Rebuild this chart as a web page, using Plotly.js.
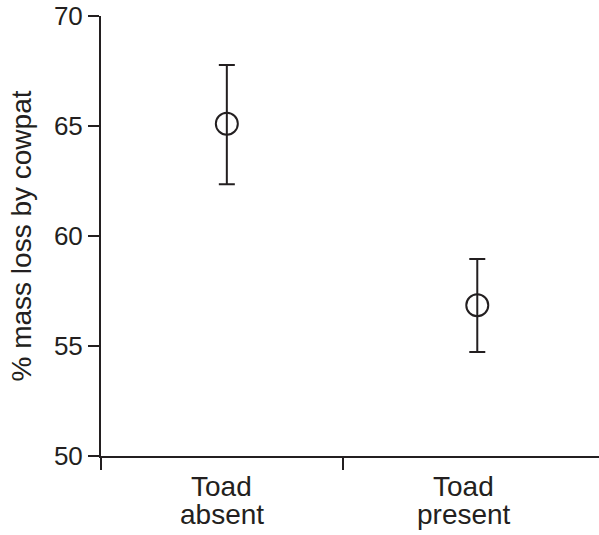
<!DOCTYPE html>
<html>
<head>
<meta charset="utf-8">
<script src="https://cdn.plot.ly/plotly-3.0.1.min.js"></script>
<style>html,body{margin:0;padding:0;background:#fff;}#chart{width:599px;height:535px;}</style>
</head>
<body>
<div id="chart"></div>
<script>
const categories = ["Toad absent", "Toad present"];
const meanValues = [65.1, 56.85];
const errPlus = [2.67, 2.1];
const errMinus = [2.75, 2.12];
const yTicks = [50, 55, 60, 65, 70];

const ink = '#231f20';
const fontFam = 'Liberation Sans, Arial, sans-serif';
const catPos = categories.map((c, i) => i + 0.5);
const markerOffset = [0.02, 0.055];
const markerX = catPos.map((p, i) => p + markerOffset[i]);

const trace = {
  x: markerX,
  y: meanValues,
  type: 'scatter',
  mode: 'markers',
  marker: {symbol: 'circle-open', size: 22, color: ink, line: {width: 2, color: ink}},
  error_y: {type: 'data', symmetric: false, array: errPlus, arrayminus: errMinus,
            color: ink, thickness: 2, width: 8},
  hoverinfo: 'none',
  cliponaxis: false
};

// Two-line category labels with tight line spacing, built from the categories array
const annotations = [];
categories.forEach((c, i) => {
  const parts = c.split(' ');
  parts.forEach((p, j) => {
    annotations.push({
      x: catPos[i], xref: 'x', y: 0, yref: 'paper',
      yanchor: 'top', xanchor: 'center',
      yshift: -13 - j * 28,
      text: p, showarrow: false,
      font: {size: 28, family: fontFam, color: ink}
    });
  });
});

const layout = {
  width: 599, height: 535,
  margin: {l: 101, r: 0, t: 16, b: 79},
  paper_bgcolor: '#fff', plot_bgcolor: '#fff',
  showlegend: false,
  font: {family: fontFam, color: ink},
  annotations: annotations,
  xaxis: {
    range: [0, 2.058], showgrid: false, zeroline: false,
    showline: true, linewidth: 2, linecolor: ink,
    tickmode: 'array', tickvals: [0, 1], ticktext: ['', ''],
    ticks: 'outside', ticklen: 12, tickwidth: 1.5, tickcolor: ink,
    showticklabels: false
  },
  yaxis: {
    range: [50, 70], showgrid: false, zeroline: false,
    showline: true, linewidth: 2, linecolor: ink,
    tickmode: 'array', tickvals: yTicks,
    ticks: 'outside', ticklen: 11, tickwidth: 1.5, tickcolor: ink,
    tickfont: {size: 26, color: ink},
    title: {text: '% mass loss by cowpat', font: {size: 28, color: ink}, standoff: 14}
  }
};

Plotly.newPlot('chart', [trace], layout, {displayModeBar: false, staticPlot: true});
</script>
</body>
</html>
